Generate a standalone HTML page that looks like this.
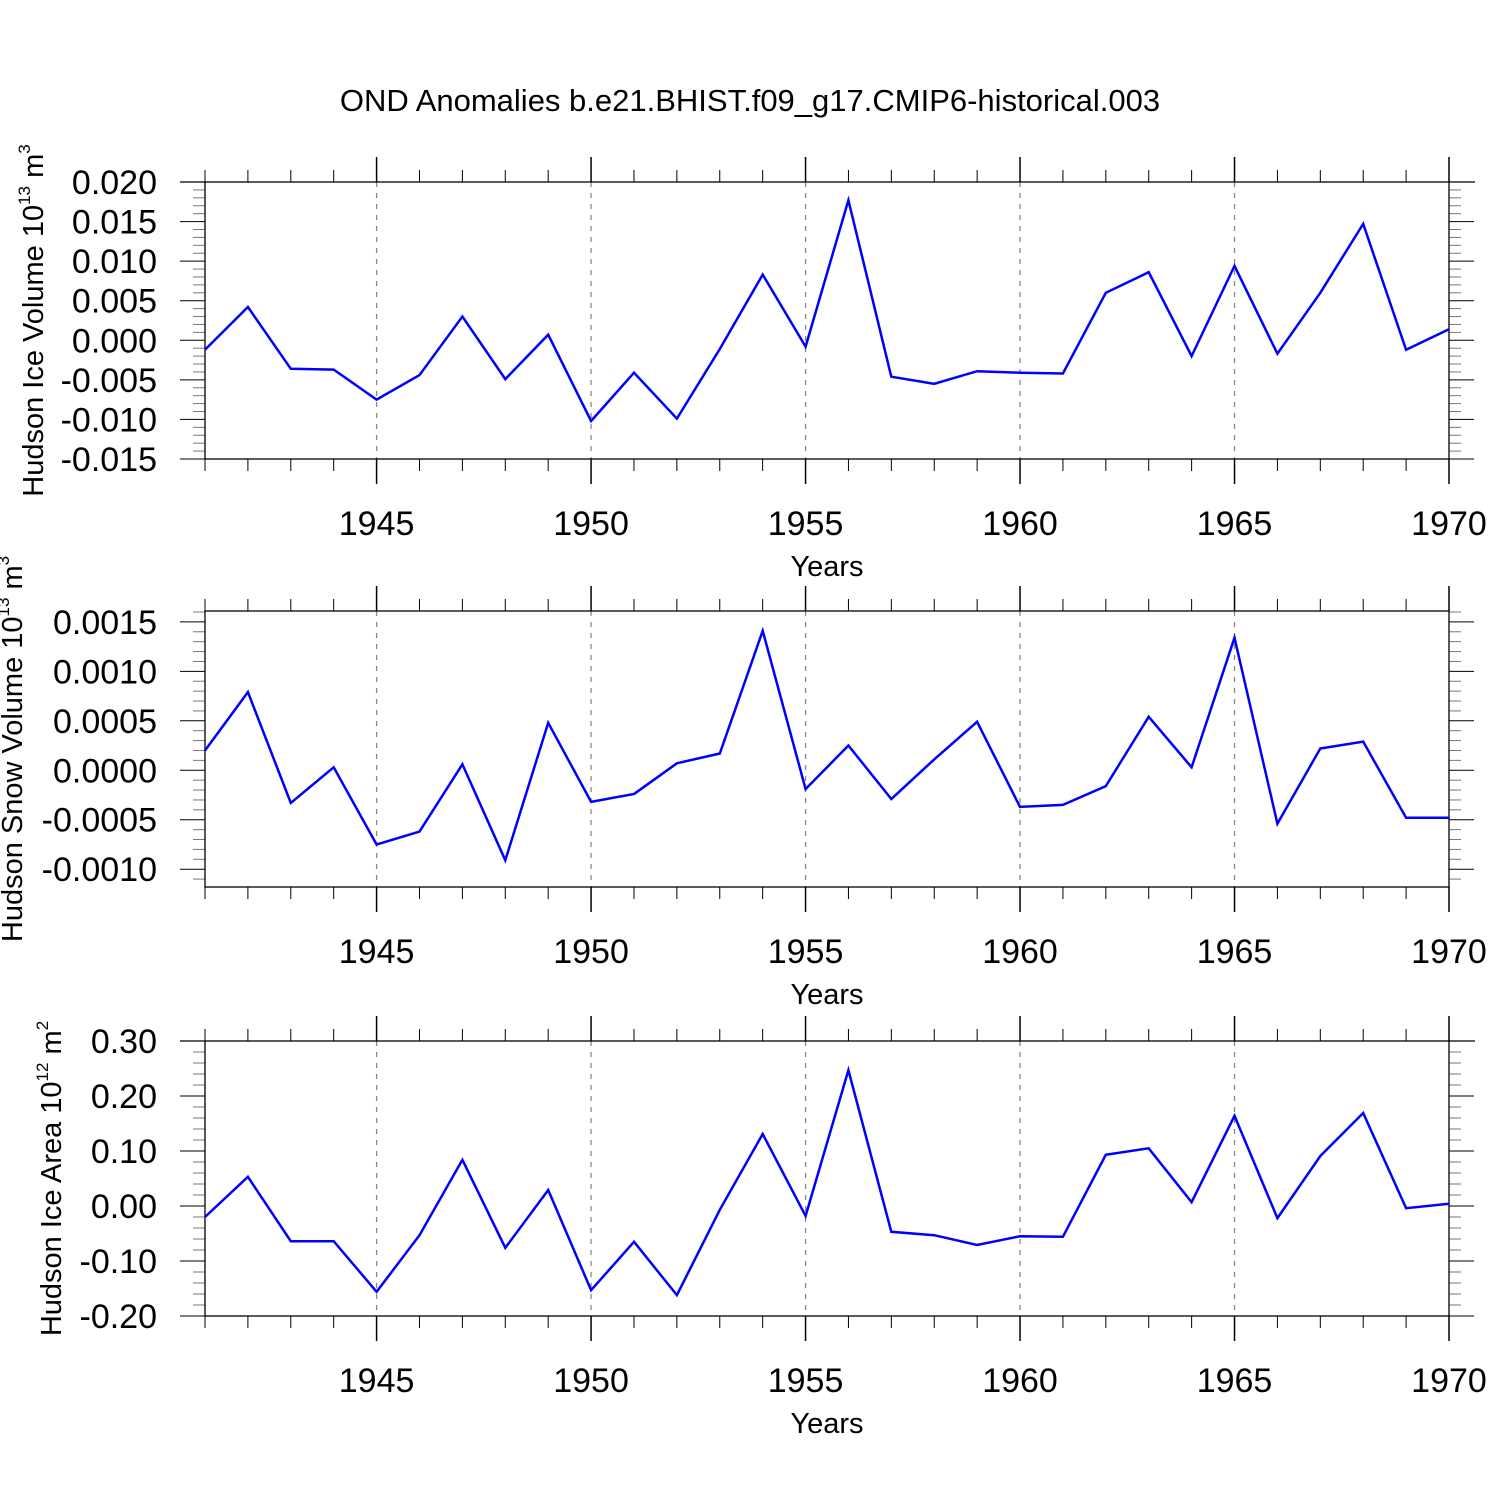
<!DOCTYPE html>
<html><head><meta charset="utf-8"><style>html,body{margin:0;padding:0;background:#fff}svg{display:block}text{font-family:"Liberation Sans",sans-serif;fill:#000}</style></head>
<body>
<svg id="c" width="1500" height="1500" viewBox="0 0 1500 1500">
<text x="750" y="111" text-anchor="middle" font-size="31">OND Anomalies b.e21.BHIST.f09_g17.CMIP6-historical.003</text>
</svg>
<script>
const years=[1941,1942,1943,1944,1945,1946,1947,1948,1949,1950,1951,1952,1953,1954,1955,1956,1957,1958,1959,1960,1961,1962,1963,1964,1965,1966,1967,1968,1969,1970];
const iceVolume=[-0.0012,0.0042,-0.0036,-0.0037,-0.0075,-0.0044,0.0030,-0.0049,0.0007,-0.0102,-0.0041,-0.0099,-0.0011,0.0083,-0.0008,0.0177,-0.0046,-0.0055,-0.0039,-0.0041,-0.0042,0.0060,0.0086,-0.0020,0.0094,-0.0017,0.0060,0.0147,-0.0012,0.0014];
const snowVolume=[0.00020,0.00079,-0.00033,0.00003,-0.00075,-0.00062,0.00006,-0.00091,0.00048,-0.00032,-0.00024,0.00007,0.00017,0.00141,-0.00019,0.00025,-0.00029,0.00011,0.00049,-0.00037,-0.00035,-0.00016,0.00054,0.00003,0.00134,-0.00054,0.00022,0.00029,-0.00048,-0.00048];
const iceArea=[-0.020,0.053,-0.064,-0.064,-0.156,-0.053,0.084,-0.076,0.029,-0.153,-0.065,-0.162,-0.007,0.131,-0.018,0.247,-0.047,-0.053,-0.071,-0.055,-0.056,0.093,0.105,0.007,0.164,-0.022,0.091,0.169,-0.004,0.004];
const xTickYears=[1945,1950,1955,1960,1965,1970];
const iceVolTicks=["0.020","0.015","0.010","0.005","0.000","-0.005","-0.010","-0.015"];
const snowTicks=["0.0015","0.0010","0.0005","0.0000","-0.0005","-0.0010"];
const areaTicks=["0.30","0.20","0.10","0.00","-0.10","-0.20"];

const svg=document.getElementById('c');
const NS='http://www.w3.org/2000/svg';
function mk(tag,attrs,parent){const e=document.createElementNS(NS,tag);for(const k in attrs)e.setAttribute(k,attrs[k]);(parent||svg).appendChild(e);return e;}
const X0=205,X1=1449;
const xs=y=>X0+(y-1941)/(1970-1941)*(X1-X0);

function panel(name,top,bottom,vTop,vBot,major,minor,ticks,data,label,exp,unit,titleX){
  const g=mk('g',{});
  
  
  const ys=v=>top+(vTop-v)/(vTop-vBot)*(bottom-top);
  xTickYears.forEach(y=>{if(y<1970){const l=mk('line',{x1:xs(y),x2:xs(y),y1:top,y2:bottom,stroke:'#888','stroke-width':1.3,'stroke-dasharray':'5,6'},g);
    }});
  for(let y=1941;y<=1970;y++){const maj=y%5==0;const len=maj?25:12;
    mk('line',{x1:xs(y),x2:xs(y),y1:top-len,y2:top,stroke:'#000','stroke-width':maj?1.5:1},g);
    mk('line',{x1:xs(y),x2:xs(y),y1:bottom,y2:bottom+len,stroke:'#000','stroke-width':maj?1.5:1},g);}
  const i0=Math.ceil(vBot/minor-1e-6), i1=Math.floor(vTop/minor+1e-6);
  for(let i=i0;i<=i1;i++){const v=i*minor;const maj=Math.abs(Math.round(v/major)*major-v)<minor/10;const len=maj?25:12;const yy=ys(v);
    mk('line',{x1:X0-len,x2:X0,y1:yy,y2:yy,stroke:maj?'#000':'#777','stroke-width':1},g);
    mk('line',{x1:X1,x2:X1+len,y1:yy,y2:yy,stroke:maj?'#000':'#777','stroke-width':1},g);}
  ticks.forEach(t=>{const v=parseFloat(t);const yy=ys(v);
    const tx=mk('text',{x:157,y:yy+12,'text-anchor':'end','font-size':34},g);tx.textContent=t;
    });
  xTickYears.forEach(y=>{const tx=mk('text',{x:xs(y),y:bottom+76,'text-anchor':'middle','font-size':34},g);tx.textContent=y;
    });
  const xt=mk('text',{x:827,y:bottom+117,'text-anchor':'middle','font-size':29},g);xt.textContent='Years';
  
  const r=mk('rect',{x:X0,y:top,width:X1-X0,height:bottom-top,fill:'none',stroke:'#000','stroke-width':1.3},g);
  
  if(Math.abs(ys(Math.round(vTop/major)*major)-top)<1){
    mk('line',{x1:180,x2:X0,y1:top,y2:top,stroke:'#000','stroke-width':1.3},g);
    mk('line',{x1:X1,x2:1475,y1:top,y2:top,stroke:'#000','stroke-width':1.3},g);}
  const cy=(top+bottom)/2;
  const yt=mk('text',{x:0,y:0,'text-anchor':'middle','font-size':29,transform:`translate(${titleX},${cy}) rotate(-90)`},g);
  
  yt.appendChild(document.createTextNode(label+' 10'));
  const s1=mk('tspan',{'font-size':17,dy:-13},yt);s1.textContent=exp;
  const s2=mk('tspan',{dy:13},yt);s2.textContent=' m';
  const s3=mk('tspan',{'font-size':17,dy:-13},yt);s3.textContent=unit;
  const pts=data.map((v,i)=>xs(years[i]).toFixed(1)+','+ys(v).toFixed(1)).join(' ');
  const pl=mk('polyline',{points:pts,fill:'none',stroke:'#0000ff','stroke-width':2.5,'stroke-linejoin':'miter'},g);
  
}
panel('ice-volume',182,459,0.020,-0.015,0.005,0.001,iceVolTicks,iceVolume,'Hudson Ice Volume','13','3',43);
panel('snow-volume',611,887,0.00161,-0.00118,0.0005,0.0001,snowTicks,snowVolume,'Hudson Snow Volume','13','3',22);
panel('ice-area',1041,1316,0.30,-0.20,0.1,0.02,areaTicks,iceArea,'Hudson Ice Area','12','2',61);
</script>
</body></html>
